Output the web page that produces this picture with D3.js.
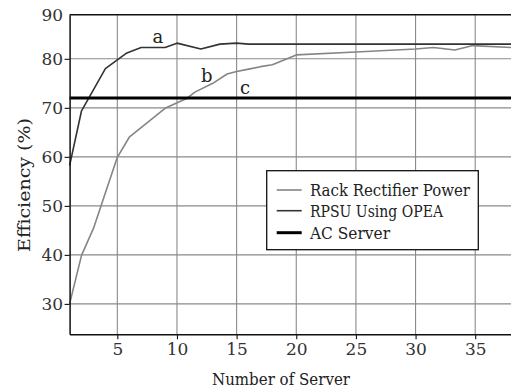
<!DOCTYPE html>
<html>
<head>
<meta charset="utf-8">
<script src="https://cdn.jsdelivr.net/npm/d3@7"></script>
<style>
  body { margin: 0; background: #fff; }
  svg { display: block; }
</style>
</head>
<body>
<div id="wrapper"></div>
<script>
// data
const rackX = [1, 2, 3, 3.8, 5, 6, 9, 10.8, 11.5, 13, 14.2, 15, 16, 17, 18, 20, 25, 30, 31.5, 33.3, 34.8, 38]
const rackY = [30, 39.9, 45.4, 51.2, 59.9, 64.0, 69.9, 71.9, 73.2, 75.0, 76.9, 77.4, 77.9, 78.4, 78.8, 80.8, 81.4, 82.0, 82.3, 81.8, 82.7, 82.3]
const rpsuX = [1, 2, 4, 5, 5.8, 7, 9, 10, 12, 13.6, 15, 16, 38]
const rpsuY = [58.2, 69.4, 78, 79.8, 81.2, 82.3, 82.3, 83.2, 82.0, 83.0, 83.2, 83.0, 83.0]
const acX = [1, 38]
const acY = [72, 72]

const seriesNames = ["Rack Rectifier Power", "RPSU Using OPEA", "AC Server"]
const xTicks = [5, 10, 15, 20, 25, 30, 35]
const yTicks = [30, 40, 50, 60, 70, 80, 90]
const annotations = [
  { label: "a", x: 8.4, y: 84.5 },
  { label: "b", x: 12.5, y: 76.5 },
  { label: "c", x: 15.7, y: 74.1 },
]

const serif = "'DejaVu Serif', serif"

function drawChart() {
  const series = [
    { name: seriesNames[0], xs: rackX, ys: rackY, color: "#858585", width: 1.6 },
    { name: seriesNames[1], xs: rpsuX, ys: rpsuY, color: "#333333", width: 1.6 },
    { name: seriesNames[2], xs: acX, ys: acY, color: "#000000", width: 3 },
  ]

  let dimensions = {
    width: 511,
    height: 389,
    margin: { top: 14.7, right: 0, bottom: 54.7, left: 69.6 },
  }
  dimensions.boundedWidth = dimensions.width
      - dimensions.margin.left
      - dimensions.margin.right
  dimensions.boundedHeight = dimensions.height
      - dimensions.margin.top
      - dimensions.margin.bottom

  const wrapper = d3.select("#wrapper")
    .append("svg")
      .attr("width", dimensions.width)
      .attr("height", dimensions.height)

  const bounds = wrapper.append("g")
      .attr("transform", `translate(${dimensions.margin.left},${dimensions.margin.top})`)

  const xScale = d3.scaleLinear()
    .domain([1, 38])
    .range([0, dimensions.boundedWidth])

  // the top of the frame sits a bit below 90, the 90 label is clamped onto it
  const yScale = d3.scaleLinear()
    .domain([23.8, 89])
    .range([dimensions.boundedHeight, 0])
    .clamp(true)

  // grid
  const grid = bounds.append("g")
  grid.selectAll(".vgrid")
    .data(xTicks)
    .join("line")
      .attr("x1", d => xScale(d))
      .attr("x2", d => xScale(d))
      .attr("y1", 0)
      .attr("y2", dimensions.boundedHeight)
      .attr("stroke", "#8a8a8a")
      .attr("stroke-width", 1.1)
  grid.selectAll(".hgrid")
    .data(yTicks.filter(d => d < 89))
    .join("line")
      .attr("x1", 0)
      .attr("x2", dimensions.boundedWidth)
      .attr("y1", d => yScale(d))
      .attr("y2", d => yScale(d))
      .attr("stroke", "#8a8a8a")
      .attr("stroke-width", 1.1)

  // top frame line
  bounds.append("line")
      .attr("x1", 0)
      .attr("x2", dimensions.boundedWidth)
      .attr("y1", 0)
      .attr("y2", 0)
      .attr("stroke", "#111")
      .attr("stroke-width", 1.5)

  // series
  series.forEach(s => {
    const pts = s.xs.map((x, i) => [x, s.ys[i]])
    const lineGenerator = d3.line()
      .x(d => xScale(d[0]))
      .y(d => yScale(d[1]))
    bounds.append("path")
        .attr("d", lineGenerator(pts))
        .attr("fill", "none")
        .attr("stroke", s.color)
        .attr("stroke-width", s.width)
        .attr("stroke-linejoin", "round")
  })

  // axes
  const yAxisGenerator = d3.axisLeft(yScale)
    .tickValues(yTicks)
    .tickSize(5)
    .tickSizeOuter(0)
    .tickPadding(1.5)
  const yAxis = bounds.append("g")
    .call(yAxisGenerator)
  const xAxisGenerator = d3.axisBottom(xScale)
    .tickValues(xTicks)
    .tickSize(5)
    .tickSizeOuter(0)
    .tickPadding(4)
  const xAxis = bounds.append("g")
    .call(xAxisGenerator)
      .attr("transform", `translate(0,${dimensions.boundedHeight})`)

  ;[xAxis, yAxis].forEach(ax => {
    ax.attr("font-family", null)
    ax.select(".domain").attr("stroke", "#111").attr("stroke-width", 1.5)
    ax.selectAll(".tick line").attr("stroke", "#111").attr("stroke-width", 1.1)
    ax.selectAll("text")
        .style("font-family", serif)
        .attr("font-size", 17)
        .attr("fill", "#333")
  })
  yAxis.selectAll(".tick").filter(d => d >= 89).select("line").remove()

  // annotations a, b, c
  bounds.selectAll(".note")
    .data(annotations)
    .join("text")
      .attr("x", d => xScale(d.x))
      .attr("y", d => yScale(d.y))
      .attr("text-anchor", "middle")
      .attr("dominant-baseline", "central")
      .style("font-family", serif)
      .attr("font-size", 18)
      .attr("fill", "#222")
      .text(d => d.label)

  // axis titles
  wrapper.append("text")
      .attr("x", 281)
      .attr("y", 385)
      .attr("text-anchor", "middle")
      .style("font-family", serif)
      .attr("font-size", 17)
      .attr("textLength", 138)
      .attr("lengthAdjust", "spacingAndGlyphs")
      .attr("fill", "#222")
      .text("Number of Server")
  wrapper.append("text")
      .attr("transform", "translate(30,185) rotate(-90)")
      .attr("text-anchor", "middle")
      .style("font-family", serif)
      .attr("font-size", 17)
      .attr("textLength", 134)
      .attr("lengthAdjust", "spacingAndGlyphs")
      .attr("fill", "#222")
      .text("Efficiency (%)")

  // legend
  const legend = wrapper.append("g")
      .attr("transform", "translate(266.7,170.7)")
  legend.append("rect")
      .attr("width", 211.6)
      .attr("height", 79)
      .attr("fill", "#fff")
      .attr("stroke", "#111")
      .attr("stroke-width", 1.3)
  const rows = legend.selectAll(".row")
    .data(series)
    .join("g")
      .attr("transform", (d, i) => `translate(0,${[19.3, 40, 62][i]})`)
  rows.append("line")
      .attr("x1", 10)
      .attr("x2", 35)
      .attr("stroke", d => d.color)
      .attr("stroke-width", d => d.width)
  rows.append("text")
      .attr("x", 43.3)
      .attr("dominant-baseline", "central")
      .style("font-family", serif)
      .attr("font-size", 17)
      .attr("textLength", (d, i) => [160, 133, 80][i])
      .attr("lengthAdjust", "spacingAndGlyphs")
      .attr("fill", "#222")
      .text(d => d.name)
}

drawChart()
</script>
</body>
</html>
